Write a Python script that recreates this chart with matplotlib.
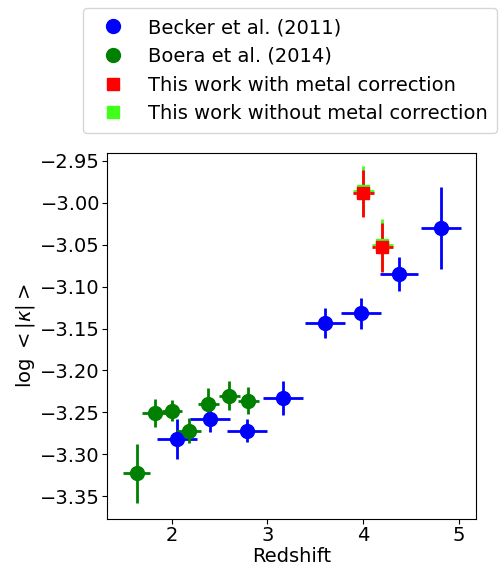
import numpy as np
import matplotlib
matplotlib.use("Agg")
import matplotlib.pyplot as plt

# Becker et al. (2011)
becker_z = [2.055, 2.40, 2.79, 3.165, 3.60, 3.98, 4.37, 4.81]
becker_zerr = [0.21, 0.21, 0.21, 0.21, 0.21, 0.21, 0.20, 0.21]
becker_k = [-3.282, -3.258, -3.272, -3.233, -3.143, -3.132, -3.085, -3.030]
becker_kerr = [0.024, 0.016, 0.014, 0.020, 0.018, 0.018, 0.020, 0.049]

# Boera et al. (2014)
boera_z = [1.635, 1.826, 2.003, 2.18, 2.38, 2.60, 2.80]
boera_zerr = [0.14, 0.135, 0.10, 0.13, 0.11, 0.11, 0.11]
boera_k = [-3.323, -3.251, -3.248, -3.272, -3.240, -3.230, -3.236]
boera_kerr = [0.035, 0.017, 0.0125, 0.015, 0.0185, 0.017, 0.016]

# this work
tw_z = [4.0, 4.2]
tw_zerr = [0.11, 0.11]
tw_k_corr = [-2.9885, -3.053]
tw_kerr_corr = [0.028, 0.029]
tw_k_nocorr = [-2.9860, -3.0505]
tw_kerr_nocorr = [0.030, 0.031]

plt.rcParams['font.size'] = 14

fig = plt.figure(figsize=(4.99, 5.66), dpi=100)
ax = fig.add_axes([107/499, 47/566, 369/499, 366/566])

ax.errorbar(becker_z, becker_k, xerr=becker_zerr, yerr=becker_kerr, fmt='o',
            color='blue', ms=10, lw=2, label='Becker et al. (2011)')
ax.errorbar(boera_z, boera_k, xerr=boera_zerr, yerr=boera_kerr, fmt='o',
            color='green', ms=10, lw=2, label='Boera et al. (2014)')
h_nocorr = ax.errorbar(tw_z, tw_k_nocorr, xerr=tw_zerr, yerr=tw_kerr_nocorr, fmt='s',
                       color='#40ff1a', ms=9, lw=2)
h_corr = ax.errorbar(tw_z, tw_k_corr, xerr=tw_zerr, yerr=tw_kerr_corr, fmt='s',
                     color='red', ms=9, lw=2)

# marker-only handles for the legend
handles = [
    plt.Line2D([], [], ls='none', marker='o', color='blue', ms=10),
    plt.Line2D([], [], ls='none', marker='o', color='green', ms=10),
    plt.Line2D([], [], ls='none', marker='s', color='red', ms=9),
    plt.Line2D([], [], ls='none', marker='s', color='#40ff1a', ms=9),
]
labels = ['Becker et al. (2011)', 'Boera et al. (2014)',
          'This work with metal correction', 'This work without metal correction']
ax.legend(handles, labels, loc='lower center', bbox_to_anchor=(0.4965, 1.0546),
          borderaxespad=0, fontsize=14, borderpad=0.5)

ax.set_xlim(1.325, 5.177)
ax.set_ylim(-3.3774, -2.9405)
ax.set_xticks([2, 3, 4, 5])
ax.set_yticks(np.arange(-3.35, -2.949, 0.05))
ax.tick_params(pad=1.5)
ax.set_xlabel('Redshift', labelpad=1.5)
ax.set_ylabel(r'log $< |\kappa| >$', labelpad=2)

fig.savefig('out.png', dpi=100)
